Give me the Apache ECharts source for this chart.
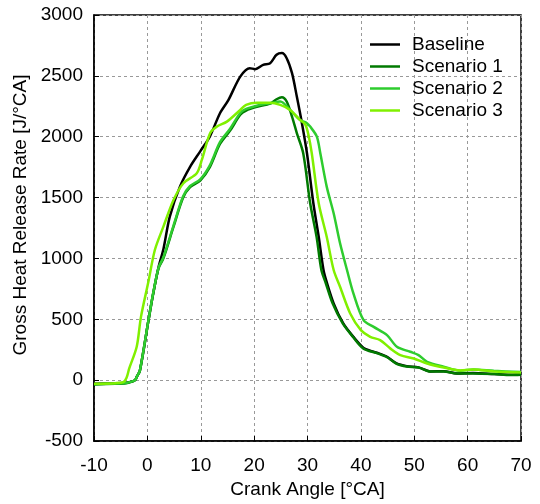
<!DOCTYPE html>
<html>
<head>
<meta charset="utf-8">
<script src="https://cdn.jsdelivr.net/npm/echarts@6/dist/echarts.min.js"></script>
<style>
  html, body { margin: 0; padding: 0; background: #fff; }
  #chart { width: 540px; height: 504px; }
</style>
</head>
<body>
<div id="chart"></div>
<script>
// series names and line colours
const seriesNames = ['Baseline', 'Scenario 1', 'Scenario 2', 'Scenario 3'];
const seriesColors = ['#000000', '#007a00', '#2ecc2e', '#80f000'];

// [crank angle, heat release rate]
const baseline = [
  [-10, -30], [-6, -26], [-4, -22], [-3, -12], [-2.3, 0], [-2, 27], [-1.4, 80],
  [0.2, 490], [1.1, 713], [2.1, 930], [3.0, 1075], [4.2, 1343], [6.1, 1590],
  [8.0, 1753], [9.9, 1880], [11.7, 2001], [13.6, 2193], [15.2, 2303],
  [17.4, 2494], [19.2, 2563], [20.2, 2555], [21.7, 2590], [23, 2604],
  [24.2, 2673], [25.2, 2687], [26.1, 2645], [27.1, 2522], [28, 2330],
  [28.9, 2125], [29.9, 1864], [31.1, 1453], [32.1, 1178], [33, 905],
  [33.6, 805], [34.9, 631], [36.7, 466], [38.6, 356], [40.5, 265], [42, 238],
  [43, 225], [44.9, 192], [46.7, 137], [48.6, 115], [50.8, 105], [53, 72],
  [55.5, 74], [58, 55], [61, 58], [65, 50], [68, 44], [70, 48]
];
const scenario1 = [
  [-10, -35], [-6, -30], [-4, -25], [-3, -14], [-2.3, 0], [-2, 27], [-1.4, 78],
  [0.2, 490], [1.1, 713], [2.1, 920], [3.0, 1000], [4.9, 1261], [6.7, 1500],
  [8.0, 1585], [9.9, 1640], [11.7, 1750], [13.6, 1940], [15.5, 2050],
  [17.4, 2180], [18.5, 2215], [20.5, 2245], [23, 2272], [24.2, 2308],
  [25.2, 2325], [26.1, 2289], [27.1, 2165], [28, 2030], [29.2, 1864],
  [30.5, 1453], [31.7, 1178], [32.6, 905], [33.4, 800], [34.7, 631],
  [36.6, 466], [38.5, 356], [40.5, 258], [43, 222], [44.9, 188], [46.7, 134],
  [48.6, 112], [50.8, 104], [53, 70], [55.5, 72], [58, 54], [61, 55],
  [65, 50], [68, 42], [70, 45]
];
const scenario2 = [
  [-10, -33], [-6, -28], [-4, -24], [-3, -12], [-2.3, 0], [-2, 27], [-1.4, 80],
  [0.2, 493], [1.1, 718], [2.1, 925], [3.0, 1010], [4.9, 1270], [6.7, 1510],
  [8.0, 1595], [9.9, 1650], [11.7, 1765], [13.6, 1955], [15.5, 2065],
  [17.4, 2195], [18.5, 2228], [20.5, 2255], [23, 2275], [24.9, 2289],
  [26.75, 2220], [28.6, 2138], [29.9, 2111], [30.5, 2083], [31.75, 2001],
  [32.4, 1864], [33.6, 1590], [34.9, 1371], [36.1, 1124], [37.4, 905],
  [38.6, 713], [40.5, 493], [42.4, 438], [44.9, 370], [46.75, 274],
  [49.25, 233], [50.8, 206], [52.4, 151], [55.5, 110], [58.6, 77],
  [61.1, 88], [64.9, 77], [70, 66]
];
const scenario3 = [
  [-10, -30], [-6, -25], [-4.5, -16], [-3.9, 20], [-3.4, 96], [-2, 274],
  [-1.2, 520], [0.2, 810], [1.4, 1069], [3.0, 1261], [4.9, 1480],
  [6.75, 1618], [9.25, 1700], [10.2, 1809], [11.75, 2029], [13, 2083],
  [14.9, 2124], [17.4, 2220], [18.5, 2262], [20.5, 2280], [23, 2280],
  [24.9, 2261], [26.75, 2220], [28.6, 2138], [29.6, 2100], [30.2, 2010],
  [30.8, 1864], [32.1, 1453], [33.6, 1178], [34.9, 905], [36.1, 767],
  [38, 548], [40, 411], [41.75, 356], [43.6, 329], [45.5, 261], [47.4, 206],
  [49.9, 178], [52.4, 137], [55.5, 104], [58.6, 80], [61.1, 88],
  [64.9, 71], [70, 62]
];
const seriesData = [baseline, scenario1, scenario2, scenario3];

const font = 'Liberation Sans, Arial, sans-serif';
const fontSize = 19;
const chart = echarts.init(document.getElementById('chart'), null, { renderer: 'canvas' });

const option = {
  animation: false,
  backgroundColor: '#fff',
  grid: {
    left: 94, right: 19, top: 15, bottom: 63,
    show: true, borderColor: '#000', borderWidth: 1.5
  },
  legend: {
    orient: 'vertical',
    left: 365, top: 30,
    icon: 'rect',
    itemWidth: 30, itemHeight: 2.5,
    itemGap: 3,
    textStyle: { fontFamily: font, fontSize: fontSize, lineHeight: 19, color: '#000', padding: [0, 0, 0, 7] },
    data: seriesNames
  },
  xAxis: {
    type: 'value',
    min: -10, max: 70, interval: 10,
    name: 'Crank Angle [°CA]',
    nameLocation: 'middle', nameGap: 39,
    nameTextStyle: { fontFamily: font, fontSize: fontSize, color: '#000' },
    axisLine: { show: true, onZero: false, lineStyle: { color: '#000', width: 1.5 } },
    axisTick: { show: true, inside: true, length: 5, lineStyle: { color: '#000' } },
    axisLabel: { fontFamily: font, fontSize: fontSize, color: '#000', margin: 15 },
    splitLine: { show: true, lineStyle: { color: '#999', type: [3, 3], width: 1 } }
  },
  yAxis: {
    type: 'value',
    min: -500, max: 3000, interval: 500,
    name: 'Gross Heat Release Rate [J/°CA]',
    nameLocation: 'middle', nameGap: 62,
    nameTextStyle: { fontFamily: font, fontSize: fontSize, color: '#000', padding: [0, 0, 0, 26] },
    axisLine: { show: true, onZero: false, lineStyle: { color: '#000', width: 1.5 } },
    axisTick: { show: true, inside: true, length: 5, lineStyle: { color: '#000' } },
    axisLabel: { fontFamily: font, fontSize: fontSize, color: '#000', margin: 11, formatter: v => String(v) },
    splitLine: { show: true, lineStyle: { color: '#999', type: [3, 3], width: 1 } }
  },
  series: seriesNames.map((name, i) => ({
    name: name,
    type: 'line',
    data: seriesData[i],
    smooth: 0.3,
    showSymbol: false,
    color: seriesColors[i],
    lineStyle: { width: 2.5, color: seriesColors[i] }
  }))
};

chart.setOption(option);
</script>
</body>
</html>
